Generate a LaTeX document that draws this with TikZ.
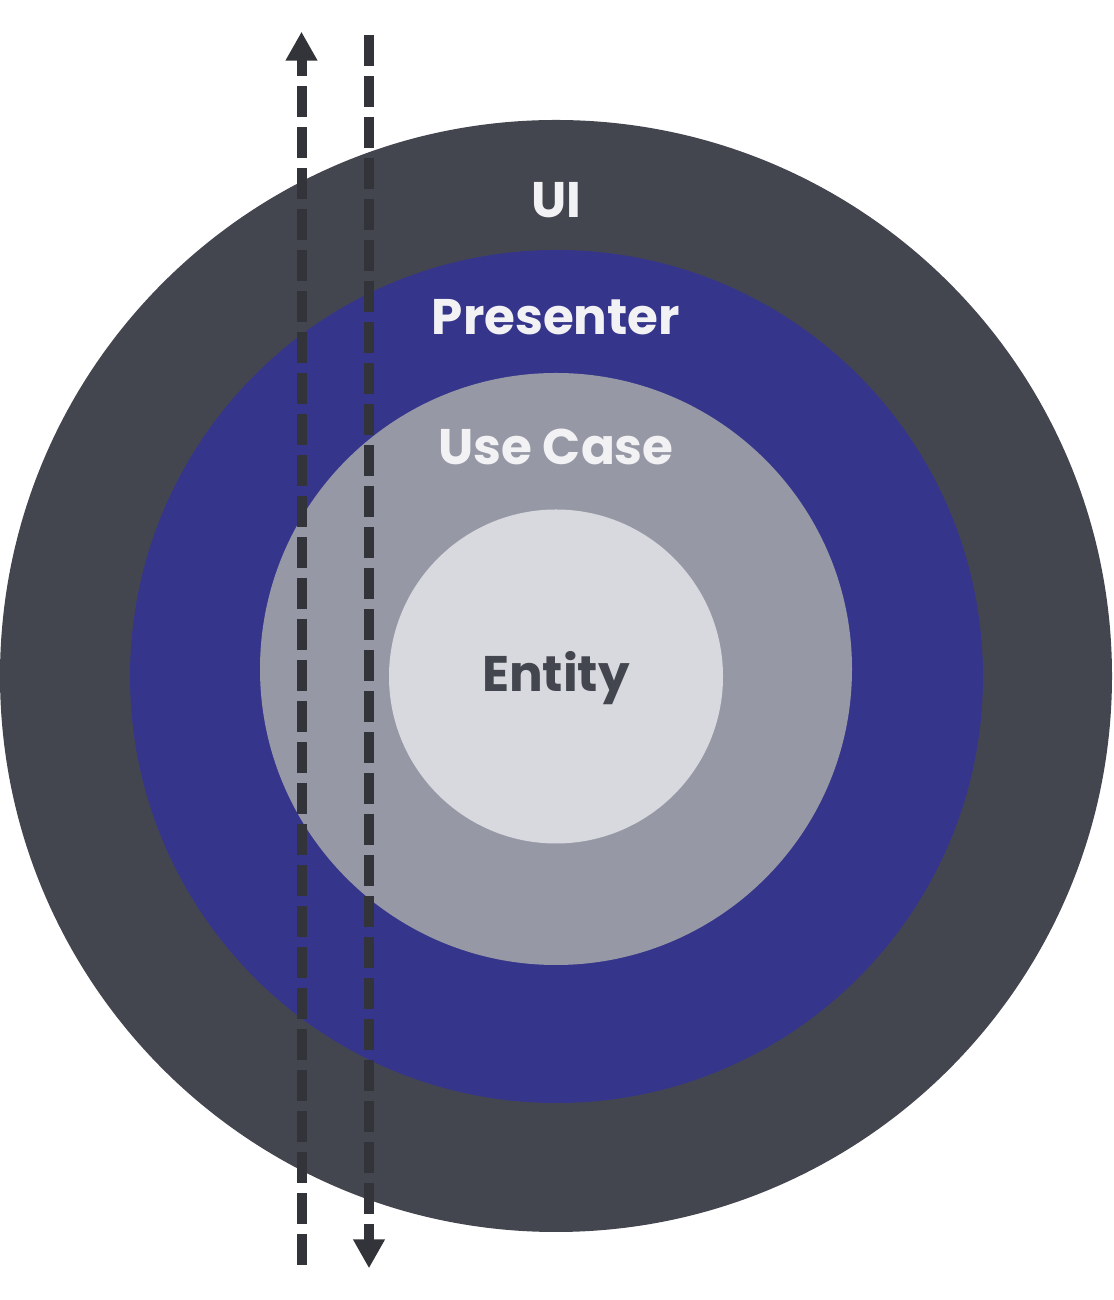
\documentclass[tikz,border=0pt]{standalone}
\usepackage{fontspec}
\setmainfont{Poppins}
\usetikzlibrary{arrows.meta}
\definecolor{uic}{RGB}{68,70,79}
\definecolor{prc}{RGB}{54,53,140}
\definecolor{ucc}{RGB}{150,153,165}
\definecolor{enc}{RGB}{216,217,222}
\definecolor{lightt}{RGB}{242,242,244}
\definecolor{arrc}{RGB}{51,52,57}
\begin{document}
\begin{tikzpicture}[x=1pt,y=1pt,
  ring/.style={circle,inner sep=0pt,outer sep=0pt,draw=none},
  lbl/.style={anchor=base,inner sep=0pt,font=\fontsize{50}{50}\selectfont\bfseries},
  flow/.style={draw=arrc,line width=10pt,dash pattern=on 31pt off 10pt,-{Triangle[width=30pt,length=29pt]}}]
\useasboundingbox (0,0) rectangle (1113,1300);
\node[ring,fill=uic,minimum size=1112pt] (ui) at (556,624) {};
\node[ring,fill=prc,minimum size=853pt] (pr) at (556.5,623.5) {};
\node[ring,fill=ucc,minimum size=592pt] (uc) at (556,631) {};
\node[ring,fill=enc,minimum size=334pt] (en) at (556,623.5) {};
\node[lbl,text=lightt] (tui) at (556,1082) {UI};
\node[lbl,text=lightt] (tpr) at (556,965) {Presenter};
\node[lbl,text=lightt] (tuc) at (556,835) {Use Case};
\node[lbl,text=uic] (ten) at (556,608) {Entity};
\coordinate (a1s) at (301.5,35);
\coordinate (a1e) at (301.5,1268.3);
\coordinate (a2s) at (369,1265);
\coordinate (a2e) at (369,31.7);
\draw[flow] (a1s) -- (a1e);
\draw[flow] (a2s) -- (a2e);
\end{tikzpicture}
\end{document}
